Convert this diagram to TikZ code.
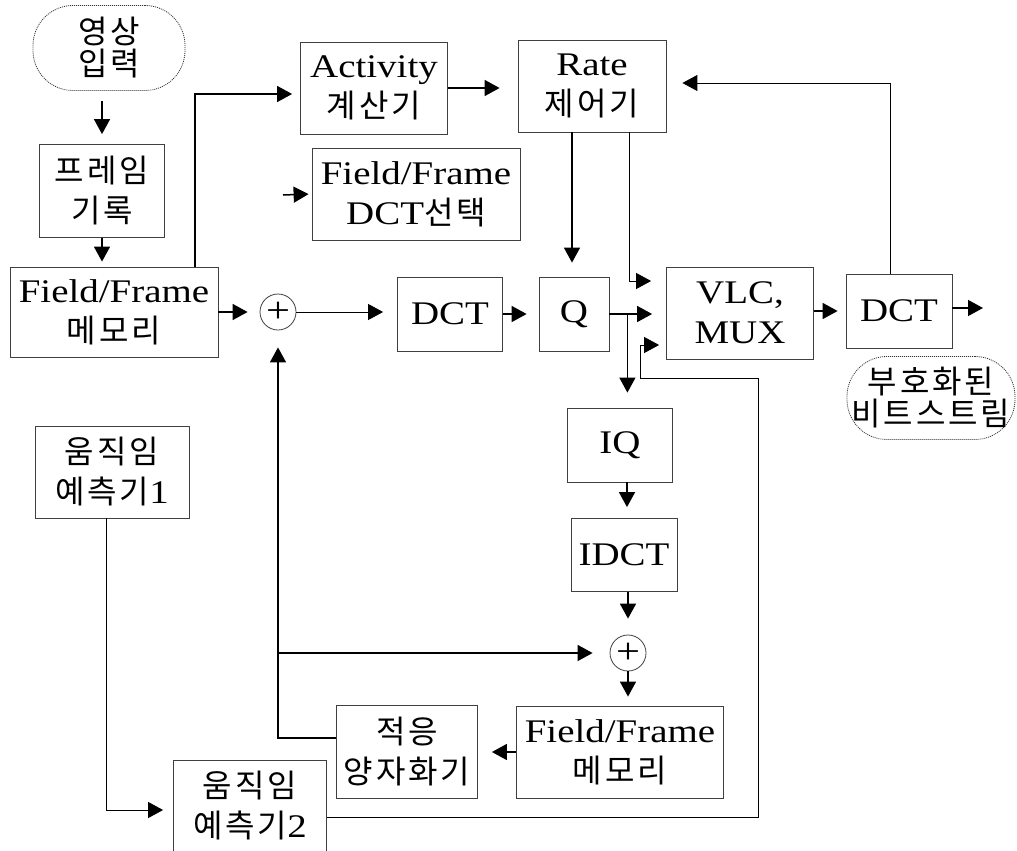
\documentclass[tikz,border=0pt]{standalone}
\usepackage{fontspec}
\setmainfont{Liberation Serif}[FakeStretch=1.18]
\newfontfamily\kr{Noto Sans CJK KR}[Scale=0.97,LetterSpace=9]
\usetikzlibrary{arrows.meta,calc,positioning}

\begin{document}
\begin{tikzpicture}[x=1pt, y=-1pt,
      box/.style={draw=black!75, line width=0.8pt, align=center, inner sep=0pt,
        font=\fontsize{33}{40}\selectfont},
      termbox/.style={box, draw=black!80, dash pattern=on 1pt off 1pt,
        rounded corners=40pt, font=\fontsize{33}{32}\selectfont},
      sumnode/.style={circle, draw=black!75, line width=0.8pt, minimum size=36pt,
        inner sep=0pt, font=\fontsize{36}{36}\selectfont},
      arrow/.style={-{Triangle[length=15pt,width=16pt]}, line width=1.5pt},
      thinarrow/.style={arrow, line width=0.9pt}
    ]
    \useasboundingbox (0,0) rectangle (1017,851);

    % input side
    \node[termbox, minimum width=152pt, minimum height=85pt] (input) at (109,48)
      {{\kr 영상}\\{\kr 입력}};
    \node[box, minimum width=125pt, minimum height=93pt] (frame) at (102,191)
      {{\kr 프레임}\\{\kr 기록}};
    \node[box, minimum width=208pt, minimum height=90pt] (ffmem) at (114,312)
      {Field/Frame\\{\kr 메모리}};
    \node[box, minimum width=154pt, minimum height=92pt] (mpa) at (112,472)
      {{\kr 움직임}\\{\kr 예측기}1};
    \node[sumnode] (suma) at (278,312) {+};

    % control
    \node[box, minimum width=147pt, minimum height=92pt] (activity) at (374,88)
      {Activity\\{\kr 계산기}};
    \node[box, minimum width=148pt, minimum height=92pt] (rate) at (592,86)
      {Rate\\{\kr 제어기}};
    \node[box, minimum width=208pt, minimum height=92pt] (fdct) at (416,194)
      {Field/Frame\\DCT{\kr 선택}};
    \coordinate (fdctin) at (283,195);

    % forward path
    \node[box, minimum width=105pt, minimum height=74pt] (dct) at (450,314) {DCT};
    \node[box, minimum width=70pt, minimum height=74pt] (q) at (574,314) {Q};
    \node[box, minimum width=147pt, minimum height=92pt] (vlc) at (740,313)
      {VLC,\\MUX};
    \node[box, minimum width=106pt, minimum height=74pt] (dctb) at (899,311) {DCT};
    \coordinate (out) at (983,308);
    \node[termbox, minimum width=168pt, minimum height=83pt] (bits) at (931,398)
      {{\kr 부호화된}\\{\kr 비트스트림}};

    % local decoder
    \node[box, minimum width=105pt, minimum height=74pt] (iq) at (620,445) {IQ};
    \node[box, minimum width=106pt, minimum height=73pt] (idct) at (624,555) {IDCT};
    \node[sumnode] (sumb) at (628,653) {+};
    \node[box, minimum width=207pt, minimum height=92pt] (ffmemb) at (620,752)
      {Field/Frame\\{\kr 메모리}};
    \node[box, minimum width=141pt, minimum height=93pt] (adq) at (407,752)
      {{\kr 적응}\\{\kr 양자화기}};
    \node[box, minimum width=153pt, minimum height=92pt] (mpb) at (250,806)
      {{\kr 움직임}\\{\kr 예측기}2};

    \draw[arrow, shorten <=10pt, shorten >=10pt] (input.south -| frame.north) -- (frame.north);
    \draw[arrow, shorten >=5pt] (frame.south) -- (frame.south |- ffmem.north);
    \draw[arrow, shorten >=12pt] (ffmem) -- (suma);
    \draw[arrow, shorten >=8pt] ([xshift=81pt]ffmem.north) |- ([yshift=-6pt]activity.west);
    \draw[arrow, shorten >=3pt] (fdctin) -- (fdct.west);
    \draw[arrow, shorten >=18pt] (activity.east) -- (activity.east -| rate.west);
    \draw[arrow, shorten >=14pt] ([xshift=-20pt]rate.south) -- ([xshift=-20pt]rate.south |- q.north);
    \draw[thinarrow, shorten >=15pt] ([xshift=37pt]rate.south) |- ([yshift=32pt]vlc.west);
    \draw[thinarrow, shorten >=14pt] (suma) -- (suma -| dct.west);
    \draw[arrow, shorten >=12pt] (dct.east) -- (dct.east -| q.west);
    \draw[arrow, shorten >=14pt] (q.east) -- (q.east -| vlc.west);
    \draw[arrow, shorten >=15pt] ([xshift=18pt]q.east) -- ([xshift=18pt]q.east |- iq.north);
    \draw[arrow, shorten >=8pt] (vlc.east |- dctb) -- (dctb.west);
    \draw[arrow] (dctb.east |- out) -- (out);
    \draw[thinarrow, shorten >=16pt] ([xshift=-9pt]dctb.north) |- ([yshift=3pt]rate.east);
    \draw[thinarrow, shorten >=7pt] ([yshift=-11pt]mpb.east)
      -| ([xshift=18pt,yshift=-19pt]vlc.south)
      -| ([xshift=-26pt,yshift=-32pt]vlc.west)
      -- ([yshift=-32pt]vlc.west);

    \draw[arrow, shorten >=11pt] ([xshift=7pt]iq.south) -- ([xshift=7pt]iq.south |- idct.north);
    \draw[arrow, shorten >=16pt] (idct.south -| sumb) -- (sumb.north);
    \draw[arrow, shorten >=9pt] (sumb.south) -- (sumb.south |- ffmemb.north);
    \draw[arrow, shorten >=14pt] (ffmemb.west) -- (ffmemb.west -| adq.east);
    \draw[arrow, shorten >=17pt] ([yshift=14pt]adq.west) -| (suma.south);
    \draw[arrow, shorten >=17pt] (suma |- sumb) -- (sumb.west);
    \draw[thinarrow, shorten >=10pt] ([xshift=-6pt]mpa.south) |- ([yshift=-4pt]mpb.west);
\end{tikzpicture}
\end{document}
